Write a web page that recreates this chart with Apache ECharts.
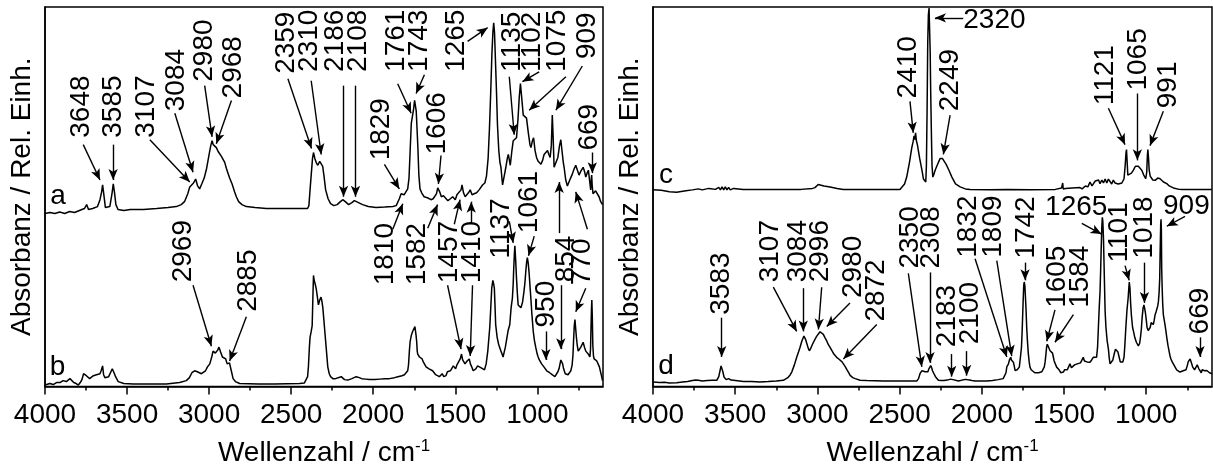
<!DOCTYPE html>
<html><head><meta charset="utf-8">
<script src="https://cdn.jsdelivr.net/npm/echarts@6/dist/echarts.min.js"></script>
<style>html,body{margin:0;padding:0;background:#fff}#c{width:1213px;height:472px}</style>
</head><body><div id="c"></div>
<script>
const FONT = '"Liberation Sans", Arial, Helvetica, sans-serif';
const xTicks = [4000, 3500, 3000, 2500, 2000, 1500, 1000];
const xMinorTicks = [3750, 3250, 2750, 2250, 1750, 1250, 750];
const xTitle = 'Wellenzahl / cm';
const xTitleSup = '-1';
const yTitle = 'Absorbanz / Rel. Einh.';

// spectrum a (left panel, upper trace): [wavenumber, relative absorbance]
const specA = [[4000,176],[3970,177],[3940,176],[3910,177.5],[3880,176],[3850,178],[3820,177],[3790,179],[3760,181],[3746,185],[3735,180],[3710,181],[3680,183],[3665,190],[3655,198],[3649,205],[3642,196],[3632,182],[3620,180],[3605,183],[3592,196],[3584,206],[3577,198],[3568,185],[3555,180],[3520,179],[3480,180],[3400,180],[3320,181],[3250,182],[3200,183],[3170,185],[3150,188],[3130,196],[3118,203],[3107,204],[3095,207],[3082,211],[3070,204],[3058,201],[3045,206],[3030,212],[3015,222],[3000,236],[2990,245],[2982,250],[2975,246],[2965,244],[2956,243],[2945,239],[2935,237],[2925,234],[2916,233],[2905,228],[2895,222],[2885,217],[2875,212],[2860,206],[2845,198],[2834,193],[2820,188],[2800,185],[2773,183],[2720,182],[2651,181],[2550,181],[2450,181],[2400,181],[2392,184],[2385,200],[2378,215],[2370,232],[2364,238],[2356,232],[2348,228],[2338,225],[2326,229],[2316,231],[2308,224],[2300,214],[2290,200],[2275,191],[2260,186],[2240,184],[2220,185],[2200,188],[2186,190],[2170,188],[2150,185],[2130,187],[2115,189],[2105,189],[2090,187],[2065,185],[2030,183],[1983,182],[1930,182.5],[1880,183],[1860,184],[1850,186],[1841,191],[1830,196],[1822,198],[1812,195],[1800,196],[1790,201],[1782,212],[1775,240],[1768,268],[1762,274],[1755,281],[1748,291],[1743,293],[1738,280],[1733,262],[1728,243],[1722,215],[1715,201],[1705,197],[1690,193],[1670,192],[1648,190],[1635,191],[1625,193],[1615,196],[1607,202],[1602,203],[1595,198],[1585,193],[1572,194],[1560,192],[1545,189],[1530,191],[1516,193],[1500,190],[1490,195],[1478,193],[1465,200],[1459,205],[1450,197],[1440,193],[1430,195],[1420,197],[1409,200],[1398,195],[1385,196],[1370,197],[1355,200],[1345,198],[1334,205],[1320,207],[1310,214],[1300,232],[1292,262],[1284,300],[1277,338],[1271,360],[1266,370],[1261,360],[1255,330],[1249,300],[1243,266],[1235,240],[1228,228],[1222,223],[1212,205],[1202,214],[1192,223],[1183,232],[1177,236],[1170,230],[1165,225],[1155,240],[1147,250],[1137,252],[1127,253],[1118,272],[1110,295],[1103,308],[1096,295],[1086,276],[1076,275],[1066,273],[1055,258],[1045,246],[1039,243],[1030,250],[1023,253],[1014,240],[1005,233],[995,229],[985,227],[978,226],[968,230],[959,236],[948,238],[938,240],[930,236],[922,233],[915,245],[909,276],[904,255],[898,223],[888,221],[875,233],[865,245],[857,251],[850,240],[842,228],[837,223],[827,210],[817,204],[805,209],[795,213],[787,216],[777,221],[766,225],[756,220],[746,215],[735,219],[721,223],[713,219],[705,213],[697,217],[689,220],[682,210],[675,200],[671,212],[669,215],[666,205],[661,196],[652,197],[645,199],[634,198],[624,193],[614,188],[603,185]];

// spectrum b (left panel, lower trace)
const specB = [[4000,1.5],[3990,1.5],[3970,3],[3950,2],[3930,4],[3909,4],[3890,6],[3870,5],[3848,8],[3825,4],[3810,3],[3797,1.5],[3785,4],[3775,7],[3765,13],[3757,15],[3748,11],[3740,10],[3728,8],[3716,8],[3705,11],[3695,10],[3686,12],[3676,10],[3665,13],[3658,16],[3649,21],[3643,12],[3635,9],[3625,8],[3612,10],[3600,12],[3590,18],[3584,20],[3577,13],[3570,10],[3554,5],[3520,3],[3463,2.5],[3360,2.5],[3260,2.5],[3180,4],[3139,6],[3120,9],[3105,14],[3088,16],[3072,15],[3060,14],[3047,13],[3037,13],[3022,16],[3010,20],[2996,23],[2984,30],[2976,36],[2970,38],[2962,34],[2956,32],[2948,37],[2940,40],[2930,35],[2919,30],[2908,29],[2899,28],[2890,23],[2885,21],[2876,24],[2870,23],[2862,14],[2854,8],[2840,5],[2830,4],[2814,3],[2700,2.5],[2600,2.5],[2449,3],[2420,3.5],[2410,4],[2400,10],[2395,20],[2389,40],[2385,50],[2378,56],[2372,62],[2367,95],[2364,113],[2360,108],[2355,105],[2348,100],[2341,92],[2334,83],[2326,88],[2318,91],[2312,86],[2307,80],[2297,60],[2287,40],[2277,20],[2268,13],[2260,10],[2246,8],[2230,8],[2220,9],[2195,10],[2175,7],[2155,6.5],[2130,8],[2104,10],[2085,9],[2070,8],[2045,7.5],[2023,7],[1990,7],[1960,7.5],[1930,8],[1901,8],[1870,9],[1850,10],[1825,11],[1810,12],[1800,13],[1790,16],[1785,22],[1779,38],[1775,46],[1768,52],[1760,56],[1754,56],[1750,58],[1746,61],[1743,60],[1739,52],[1735,45],[1732,36],[1729,33],[1724,32],[1718,30],[1713,31],[1709,28],[1702,28],[1695,25],[1686,23],[1678,20],[1670,21],[1660,18],[1650,19],[1638,16],[1628,17],[1620,12],[1610,13],[1597,10],[1590,12],[1580,13],[1570,10],[1557,11],[1548,15],[1540,13],[1530,16],[1520,15],[1512,21],[1506,20],[1498,18],[1490,22],[1480,25],[1470,28],[1462,33],[1455,27],[1450,25],[1441,23],[1435,24],[1428,26],[1421,27],[1415,28],[1408,23],[1400,20],[1391,16],[1382,17],[1375,18],[1364,21],[1352,20],[1342,19],[1335,18],[1322,17],[1312,23],[1302,36],[1295,50],[1290,60],[1285,76],[1278,100],[1271,108],[1266,104],[1262,100],[1258,82],[1254,63],[1245,50],[1236,43],[1228,39],[1222,36],[1215,33],[1209,30],[1202,35],[1195,40],[1185,50],[1178,57],[1168,63],[1160,80],[1152,90],[1147,105],[1144,120],[1140,135],[1137,143],[1132,128],[1127,110],[1122,95],[1117,83],[1111,85],[1105,82],[1100,80],[1096,80],[1090,86],[1082,96],[1076,105],[1070,118],[1065,127],[1061,131],[1056,126],[1050,115],[1046,105],[1041,93],[1033,73],[1025,56],[1018,47],[1010,40],[1001,33],[995,30],[988,27],[981,25],[974,23],[967,22],[960,20],[952,19],[943,16],[935,17],[925,14],[918,13],[910,12],[902,11],[893,10],[884,12],[875,15],[868,18],[863,22],[857,27],[852,28],[846,23],[840,18],[830,13],[822,11],[813,12],[805,12],[796,16],[788,22],[783,32],[779,48],[775,62],[771,68],[767,60],[762,50],[757,42],[751,36],[743,38],[735,40],[728,42],[721,45],[713,40],[705,36],[697,37],[690,33],[684,31],[680,30],[676,38],[673,60],[670,80],[668,88],[665,70],[662,42],[658,31],[654,28],[648,30],[645,28],[638,26],[630,23],[622,20],[615,15],[608,10],[603,6]];

// spectrum c (right panel, upper trace)
const specC = [[4000,200],[3950,199.5],[3900,198],[3856,197.5],[3800,199],[3760,200],[3724,201],[3700,200],[3660,201.5],[3620,200.5],[3600,202.5],[3590,200],[3580,203],[3570,200],[3560,203],[3550,200],[3540,202.5],[3530,200],[3510,201.5],[3451,200.3],[3350,200.5],[3248,200.3],[3100,200.5],[3030,201.5],[3015,202.3],[2995,205.5],[2984,205],[2960,204],[2923,203],[2880,201.5],[2842,200.3],[2700,200.3],[2518,200.3],[2498,200.3],[2470,206],[2457,213],[2440,228],[2426,243],[2418,249],[2412,255],[2408,251],[2403,258],[2398,250],[2392,246],[2386,240],[2378,232],[2371,226],[2362,218],[2355,211],[2348,210],[2341,208],[2337,225],[2333,280],[2329,350],[2325,378],[2321,385],[2318,385],[2314,340],[2311,300],[2307,260],[2303,225],[2298,213],[2291,216],[2284,220],[2274,224],[2264,228],[2253,232],[2246,233],[2240,232],[2230,230],[2217,226],[2200,220],[2182,213],[2160,206],[2132,203],[2100,201],[2071,200.3],[1950,200],[1848,200.3],[1700,200],[1553,200.5],[1543,200.5],[1515,202],[1508,207],[1505,201],[1492,201.3],[1450,202],[1403,202.3],[1390,201],[1370,204],[1355,203],[1342,208],[1330,204],[1320,206],[1310,209],[1300,207],[1290,210],[1281,206.3],[1270,210],[1260,207],[1250,211],[1240,207],[1230,211],[1220,209.7],[1210,206],[1200,210],[1190,207],[1180,209],[1170,206],[1159,206.3],[1148,207],[1140,208],[1135,211.3],[1128,225],[1123,238],[1120,241],[1116,228],[1112,215],[1106,213],[1100,215],[1090,217],[1078,220],[1066,224],[1057,225],[1048,224],[1040,222],[1027,220],[1015,215],[1003,211.3],[997,218],[993,235],[990,241],[986,232],[982,220],[976,214],[968,212],[960,210],[946,209.7],[938,211],[930,212],[916,211.3],[905,210],[895,208],[885,207],[875,206.3],[860,204],[850,203],[835,202],[824,201.3],[800,200.5],[780,200.3],[733,200.3],[700,200.3],[650,200.3],[602,200.3]];

// spectrum d (right panel, lower trace)
const specD = [[4000,4.7],[3988,4.7],[3960,4],[3930,4.3],[3900,3.5],[3856,3.7],[3820,4.5],[3790,5],[3760,6],[3740,6.5],[3724,6.3],[3700,5.5],[3670,6],[3640,6.3],[3612,6.3],[3600,10],[3592,16.3],[3586,21],[3582,23],[3578,19],[3575,15],[3568,9.7],[3560,8],[3555,7],[3547,9],[3540,8],[3532,7.5],[3525,6.5],[3511,6.3],[3450,5],[3400,5],[3349,4.7],[3300,5],[3250,5.5],[3207,6.3],[3180,9],[3165,12],[3156,14.7],[3140,22],[3126,29.7],[3115,35],[3106,39.7],[3095,46],[3082,51.3],[3072,48],[3065,44],[3056,39],[3049,36.3],[3040,39],[3030,43],[3015,48],[3005,51],[2995,53],[2984,55.7],[2975,55],[2964,53],[2955,50],[2945,47],[2935,43],[2923,39.7],[2910,36],[2900,33],[2883,29.7],[2870,28],[2860,26],[2850,25],[2842,23],[2830,20],[2820,17],[2810,14],[2801,11.3],[2785,9],[2770,8],[2740,6.3],[2700,6],[2600,5.7],[2500,5.5],[2437,5.7],[2396,5.5],[2385,8],[2376,13],[2365,16],[2355,18],[2345,15],[2335,13],[2328,15],[2322,18],[2311,21.3],[2305,19],[2300,16],[2291,13],[2282,10],[2275,8],[2264,6.3],[2245,6],[2230,6],[2210,6.5],[2200,7],[2190,7.5],[2183,8],[2175,7],[2165,6],[2142,5.7],[2120,6.5],[2105,7],[2092,7],[2075,6.5],[2060,6],[2040,5.5],[2020,5.7],[1990,5.5],[1970,5.7],[1935,6],[1900,7],[1870,8],[1859,9.7],[1853,14],[1848,20],[1843,22],[1838,23],[1832,27],[1824,29.7],[1820,27],[1816,26],[1812,25],[1808,24.7],[1803,21],[1798,16.3],[1792,16],[1785,17],[1778,18],[1772,19.7],[1765,30],[1759,39.7],[1755,55],[1752,70],[1748,90],[1745,103],[1742,106.3],[1738,102],[1735,92],[1731,78],[1727,59.7],[1722,45],[1718,35],[1712,25],[1707,19.7],[1700,17],[1690,15],[1678,14],[1666,13],[1655,14],[1646,15],[1635,15],[1626,16.3],[1620,20],[1615,25],[1610,33],[1606,40],[1602,43],[1598,44],[1594,40],[1590,38],[1585,36.3],[1580,37],[1576,38],[1570,34],[1565,30],[1560,26],[1555,24],[1545,19.7],[1538,18],[1530,17],[1525,15],[1520,14],[1512,15],[1504,14.7],[1497,17],[1490,19],[1485,17],[1480,17],[1472,20],[1464,23],[1455,19],[1448,21],[1443,18],[1436,22],[1430,21],[1420,23],[1410,22],[1400,24],[1392,24.7],[1383,29.7],[1376,26],[1370,27],[1360,25],[1350,27],[1342,24.7],[1332,27],[1322,29.7],[1312,28],[1302,29.7],[1296,40],[1291,60],[1286,80],[1281,96.3],[1277,120],[1274,140],[1270,163],[1267,172],[1264,168],[1260,150],[1256,120],[1252,90],[1250,76.3],[1245,60],[1238,47],[1230,38],[1225,29],[1220,23],[1215,22],[1210,23],[1203,27],[1195,33],[1187,38],[1180,39.7],[1172,35],[1165,30],[1158,25],[1150,23],[1142,25],[1135,30],[1130,42],[1124,60],[1117,78],[1110,90],[1106,100],[1103,106.3],[1099,100],[1095,85],[1090,72],[1083,60],[1076,55],[1070,50],[1060,45],[1048,41.3],[1040,44],[1035,50],[1030,58],[1025,70],[1019,80],[1014,83],[1010,80],[1005,75],[1000,68],[995,60],[988,57],[982,56.3],[976,60],[970,65],[963,64],[957,63],[952,67],[946,73],[940,76],[935,78],[930,82],[926,86.3],[922,95],[918,110],[915,140],[912,165],[910,170],[908,160],[906,120],[903,100],[900,85],[896,73],[890,67],[885,62],[880,56],[875,49.7],[868,42],[860,35],[855,31],[850,28],[842,25],[835,23],[825,20],[815,17],[805,15.5],[795,14.7],[785,15],[775,16],[765,16.5],[758,17],[754,18],[749,22],[745,25],[740,27],[733,28],[728,26],[723,23],[718,20],[713,18],[706,17],[700,17],[695,19],[690,22],[685,20],[680,18],[676,17],[672,19.7],[668,16],[665,14],[660,17],[655,18],[650,16],[645,16],[638,17],[632,16.3],[625,15],[615,14],[608,13.5],[600,13]];

// peak annotations: [label, label wavenumber, label height, arrows [from wn, from h, to wn, to h], orientation]
const annLeft = [
  ['3648', 3777, 253, [[3767,246,3665,210]]],
  ['3585', 3585, 253, [[3585,246,3585,210]]],
  ['3107', 3381, 253, [[3361,251,3118,208]]],
  ['3084', 3199, 280, [[3209,278,3098,218]]],
  ['2980', 3027, 310, [[3027,306,2982,254]]],
  ['2968', 2855, 293, [[2864,291,2956,247]]],
  ['2359', 2530, 318, [[2520,313,2376,242]]],
  ['2310', 2388, 320, [[2378,311,2317,236]]],
  ['2186', 2232, 320, [[2181,306,2181,193]]],
  ['2108', 2094, 320, [[2108,306,2108,193]]],
  ['1761', 1861, 320, [[1851,308,1769,278]]],
  ['1743', 1719, 320, [[1688,317,1739,298]]],
  ['1829', 1952, 230, [[1932,226,1841,201]]],
  ['1606', 1608, 236, [[1587,235,1603,206]]],
  ['1265', 1496, 320, [[1425,351,1303,365]]],
  ['1135', 1151, 320, [[1171,315,1141,256]]],
  ['1102', 1030, 320, [[989,320,1091,310]]],
  ['1075', 878, 320, [[826,315,1050,281]]],
  ['909', 695, 333, [[726,326,887,281]]],
  ['669', 685, 240, [[665,238,665,217]]],
  ['1810', 1927, 103, [[1881,160,1820,186]]],
  ['1582', 1729, 103, [[1668,161,1608,185]]],
  ['1457', 1536, 105, [[1506,165,1471,190],[1547,103,1465,38]]],
  ['1410', 1395, 105, [[1403,166,1403,188],[1395,103,1409,31]]],
  ['1137', 1220, 130, [[1171,168,1147,146]]],
  ['1061', 1050, 156, [[1019,153,1054,133]]],
  ['950', 948, 60, [[948,56,948,27]]],
  ['854', 826, 106, [[867,156,867,208],[857,103,857,38]]],
  ['770', 725, 103, [[695,160,766,198],[705,100,766,76]]],
  ['2969', 3159, 106, [[3098,103,2986,41]]],
  ['2885', 2763, 76, [[2773,71,2875,26]]]
];
const annRight = [
  ['2410', 2447, 293, [[2437,290,2417,258]]],
  ['2320', 2113, 372, [[2113,375,2285,375]], 'h'],
  ['2249', 2193, 280, [[2193,276,2234,236]]],
  ['1121', 1250, 286, [[1230,283,1129,246]]],
  ['1065', 1048, 301, [[1054,298,1054,230]]],
  ['991', 865, 283, [[896,280,977,245]]],
  ['3583', 3582, 73, [[3582,70,3582,30]]],
  ['3107', 3288, 106, [[3268,101,3126,56]]],
  ['3084', 3116, 106, [[3086,100,3086,56]]],
  ['2996', 2984, 106, [[2974,101,2994,58]]],
  ['2980', 2782, 90, [[2802,85,2943,61]]],
  ['2872', 2639, 66, [[2639,63,2842,28]]],
  ['2350', 2437, 120, [[2447,115,2365,20]]],
  ['2308', 2305, 120, [[2315,116,2315,24]]],
  ['2183', 2213, 40, [[2183,33,2183,10]]],
  ['2100', 2072, 43, [[2092,36,2092,11]]],
  ['1832', 2082, 131, [[2041,130,1848,30]]],
  ['1809', 1930, 131, [[1909,128,1818,31]]],
  ['1742', 1727, 130, [[1737,126,1737,108]]],
  ['1605', 1544, 80, [[1555,78,1605,46]]],
  ['1584', 1403, 80, [[1443,73,1555,45]]],
  ['1265', 1615, 182, [[1392,166,1272,155]], 'h'],
  ['1101', 1165, 126, [[1129,123,1104,108]]],
  ['1018', 1013, 130, [[1011,126,1011,85]]],
  ['909', 898, 183, [[764,173,875,163]], 'h'],
  ['669', 673, 53, [[673,50,673,30]]]
];
// trace letters: [letter, wavenumber, height, panel]
const traceLabels = [['a', 3921, 193, 0], ['b', 3924, 20, 0], ['c', 3921, 215, 1], ['d', 3921, 21, 1]];

const chart = echarts.init(document.getElementById('c'), null, {renderer: 'canvas'});

function majorX(gridIndex) {
  return {
    type: 'value', gridIndex: gridIndex, min: 600, max: 4000, inverse: true, position: 'bottom',
    axisLine: {show: true, onZero: false, lineStyle: {color: '#000', width: 1.5}},
    axisTick: {show: true, customValues: xTicks, length: 8, inside: false, lineStyle: {color: '#000', width: 1.5}},
    axisLabel: {show: true, customValues: xTicks, fontSize: 28, color: '#000', fontFamily: FONT, margin: 15,
      formatter: function (v) { return String(v); }},
    splitLine: {show: false},
    name: xTitle + '{sup|' + xTitleSup + '}', nameLocation: 'middle', nameGap: 51,
    nameTextStyle: {fontSize: 28, color: '#000', fontFamily: FONT,
      rich: {sup: {fontSize: 17, color: '#000', fontFamily: FONT, verticalAlign: 'top', padding: [0, 0, 14, 0]}}}
  };
}
function minorX(gridIndex) {
  return {
    type: 'value', gridIndex: gridIndex, min: 600, max: 4000, inverse: true, position: 'bottom',
    axisLine: {show: false},
    axisTick: {show: true, customValues: xMinorTicks, length: 4, inside: false, lineStyle: {color: '#000', width: 1.5}},
    axisLabel: {show: false}, splitLine: {show: false}
  };
}
function yAx(gridIndex) {
  return {
    type: 'value', gridIndex: gridIndex, min: 0, max: 386,
    axisLine: {show: true, lineStyle: {color: '#000', width: 1.5}},
    axisTick: {show: false}, axisLabel: {show: false}, splitLine: {show: false},
    name: yTitle, nameLocation: 'middle', nameGap: 9,
    nameTextStyle: {fontSize: 28, color: '#000', fontFamily: FONT}
  };
}
function arrowLines(anns) {
  const out = [];
  anns.forEach(a => a[3].forEach(r => out.push([{coord: [r[0], r[1]]}, {coord: [r[2], r[3]]}])));
  return out;
}
function markLineOf(anns) {
  return {
    silent: true, animation: false, symbol: ['none', 'arrow'], symbolSize: [7, 11], precision: 2,
    lineStyle: {color: '#000', width: 1.4, type: 'solid'}, label: {show: false},
    emphasis: {disabled: true}, data: arrowLines(anns)
  };
}
function lineSeries(name, data, xi, yi, ml) {
  const s = {
    name: name, type: 'line', data: data, xAxisIndex: xi, yAxisIndex: yi, showSymbol: false, symbol: 'none',
    lineStyle: {color: '#000', width: 1.5}, silent: true, animation: false, clip: true
  };
  if (ml) s.markLine = ml;
  return s;
}

chart.setOption({
  animation: false,
  backgroundColor: '#fff',
  grid: [
    {left: 45, top: 7, width: 558, height: 386, show: true, borderColor: '#000', borderWidth: 1.5, backgroundColor: 'transparent'},
    {left: 653, top: 7, width: 559, height: 386, show: true, borderColor: '#000', borderWidth: 1.5, backgroundColor: 'transparent'}
  ],
  xAxis: [majorX(0), minorX(0), majorX(1), minorX(1)],
  yAxis: [yAx(0), yAx(1)],
  series: [
    lineSeries('a', specA, 0, 0, markLineOf(annLeft)),
    lineSeries('b', specB, 0, 0),
    lineSeries('c', specC, 2, 1, markLineOf(annRight)),
    lineSeries('d', specD, 2, 1)
  ]
});

const graphics = [];
function addLabels(anns, seriesIndex) {
  anns.forEach(a => {
    const p = chart.convertToPixel({seriesIndex: seriesIndex}, [a[1], a[2]]);
    const horiz = a[4] === 'h';
    graphics.push({
      type: 'text', x: p[0], y: p[1], rotation: horiz ? 0 : Math.PI / 2, silent: true,
      style: {text: a[0], fontSize: 28, fontFamily: FONT, fill: '#000', align: 'left', verticalAlign: 'middle'}
    });
  });
}
addLabels(annLeft, 0);
addLabels(annRight, 2);
traceLabels.forEach(t => {
  const p = chart.convertToPixel({seriesIndex: t[3] === 0 ? 0 : 2}, [t[1], t[2]]);
  graphics.push({type: 'text', x: p[0], y: p[1], silent: true,
    style: {text: t[0], fontSize: 28, fontFamily: FONT, fill: '#000', align: 'center', verticalAlign: 'middle'}});
});
chart.setOption({graphic: graphics});
</script>
</body></html>
